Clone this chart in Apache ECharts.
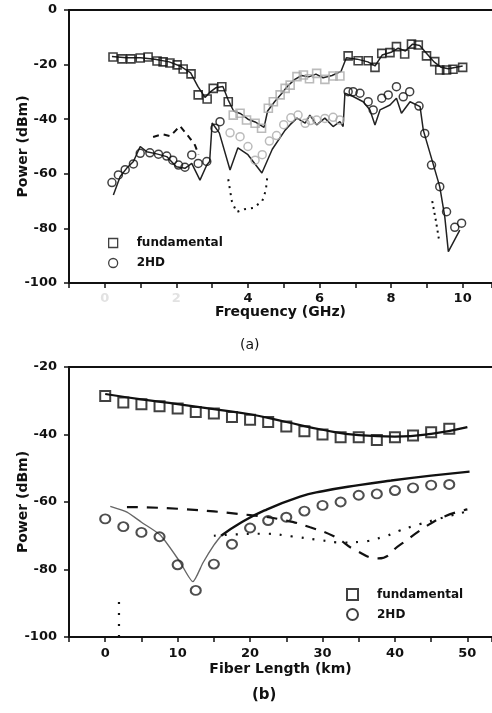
<!DOCTYPE html>
<html><head><meta charset="utf-8">
<script src="https://cdn.jsdelivr.net/npm/echarts@6/dist/echarts.min.js"></script>
<style>html,body{margin:0;padding:0;background:#fff}#c{width:492px;height:713px}</style>
</head><body><div id="c"></div>
<script>
// ---------- (a) Power vs frequency ----------
const fundA = [[0.23,-17.2],[0.48,-17.9],[0.73,-17.9],[0.99,-17.6],[1.21,-17.2],[1.46,-18.7],[1.63,-19.0],[1.82,-19.4],[2.02,-20.1],[2.19,-21.6],[2.41,-23.4],[2.61,-31.1],[2.86,-32.6],[3.03,-28.7],[3.27,-28.1],[3.45,-33.6],[3.59,-38.5],[3.78,-37.8],[3.96,-40.3],[4.2,-41.5],[4.38,-43.3],[4.57,-36.0],[4.71,-33.6],[4.9,-31.1],[5.04,-28.7],[5.18,-27.5],[5.37,-24.4],[5.55,-23.8],[5.72,-25.2],[5.92,-23.2],[6.15,-25.4],[6.38,-24.2],[6.57,-24.2],[6.8,-16.8],[7.08,-18.6],[7.36,-18.6],[7.55,-21.0],[7.74,-15.9],[7.97,-15.6],[8.15,-13.4],[8.38,-16.1],[8.57,-12.5],[8.76,-12.8],[8.99,-16.8],[9.22,-18.9],[9.36,-22.0],[9.55,-22.0],[9.73,-21.7],[10.0,-21.0]];
const fundSimA = [[0.2,-17],[0.6,-17.5],[1.0,-17.5],[1.4,-18],[1.8,-19],[2.1,-20.5],[2.4,-23],[2.6,-28],[2.8,-32],[2.95,-30],[3.1,-28.5],[3.3,-28],[3.45,-33],[3.6,-37],[3.8,-38],[4.0,-40],[4.2,-41],[4.45,-43],[4.55,-37],[4.75,-33.5],[4.95,-30.5],[5.1,-28],[5.3,-25.5],[5.5,-24],[5.7,-24.5],[5.9,-23.5],[6.1,-24.8],[6.35,-24],[6.6,-22.5],[6.75,-17.5],[7.05,-18],[7.35,-19],[7.55,-20.5],[7.75,-16.5],[8.0,-15.5],[8.2,-14],[8.4,-15],[8.6,-12.5],[8.8,-13],[9.0,-16],[9.2,-19],[9.4,-21],[9.6,-21.5],[10.0,-20.5]];
const hd2A = [[0.2,-63.2],[0.38,-60.4],[0.57,-58.5],[0.8,-56.4],[0.99,-52.5],[1.26,-52.3],[1.5,-52.8],[1.73,-53.5],[1.9,-55.0],[2.06,-56.8],[2.24,-57.6],[2.43,-53.1],[2.61,-56.2],[2.85,-55.5],[3.08,-43.3],[3.22,-40.9],[3.5,-45.0],[3.78,-46.4],[4.0,-50.0],[4.2,-55.0],[4.4,-53.0],[4.6,-48.0],[4.8,-46.0],[5.0,-42.0],[5.2,-39.5],[5.4,-38.5],[5.6,-41.5],[5.75,-40.5],[5.92,-40.3],[6.15,-39.7],[6.38,-39.3],[6.57,-40.3],[6.8,-29.9],[6.94,-29.9],[7.13,-30.5],[7.36,-33.6],[7.5,-36.6],[7.74,-32.3],[7.92,-31.1],[8.15,-28.1],[8.34,-31.8],[8.52,-29.9],[8.78,-35.2],[8.94,-45.2],[9.13,-56.8],[9.36,-64.7],[9.55,-73.9],[9.78,-79.6],[9.97,-78.1]];
const hd2SimA = [[0.24,-67.8],[0.43,-61],[0.61,-58],[0.8,-55.5],[0.99,-50],[1.17,-51.9],[1.45,-52.7],[1.73,-53.7],[2.0,-57.4],[2.24,-58],[2.43,-56.2],[2.66,-62.3],[2.85,-56.8],[2.93,-55.5],[3.0,-41.4],[3.2,-45],[3.5,-58.6],[3.72,-50.5],[4.0,-53],[4.39,-59.7],[4.68,-51],[5.04,-44],[5.18,-42],[5.37,-39.6],[5.6,-41.4],[5.73,-38.5],[5.92,-42.1],[6.15,-39.6],[6.38,-42.7],[6.57,-40.9],[6.66,-42.7],[6.71,-30.5],[6.94,-31.7],[7.22,-33.6],[7.41,-36.6],[7.55,-42.1],[7.69,-36.6],[7.97,-34.8],[8.15,-32.3],[8.29,-37.8],[8.53,-33.6],[8.81,-35.4],[8.9,-44],[9.36,-64.7],[9.5,-75.7],[9.6,-88.5],[9.92,-80.6]];
const dashA1 = [[1.35,-46.5],[1.6,-45.5],[1.83,-46.2],[2.1,-42.5],[2.38,-47],[2.52,-49.5],[2.62,-53]];
const dashA2 = [[3.45,-62],[3.55,-70],[3.68,-74],[3.9,-73],[4.15,-72.5],[4.4,-70],[4.5,-66],[4.55,-60]];
const dotA3 = [[9.15,-70],[9.25,-77],[9.35,-85]];
const freqTickLabels = ['0','2','4','6','8','10'];

// ---------- (b) Power vs fiber length ----------
const fiberKm = [0,2.5,5,7.5,10,12.5,15,17.5,20,22.5,25,27.5,30,32.5,35,37.5,40,42.5,45,47.5];
const fundB = [-28.6,-30.5,-31,-31.6,-32.3,-33.3,-33.8,-34.8,-35.6,-36.3,-37.6,-39,-40,-40.8,-40.8,-41.6,-40.8,-40.3,-39.3,-38.3];
const hd2B = [-65,-67.3,-69,-70.3,-78.6,-86.2,-78.4,-72.5,-67.7,-65.5,-64.5,-62.7,-61,-60,-58,-57.6,-56.6,-55.8,-55,-54.8];
const fundSimB = [[0,-28],[5,-29.6],[10,-31],[15,-32.5],[20,-34],[25,-36.3],[30,-38.6],[35,-40.2],[40,-40.6],[45,-39.8],[50,-37.8]];
const hd2SimB = [[0.7,-61.3],[3,-63],[5,-66],[7.6,-69.8],[10.3,-77.7],[12.1,-83.6],[13.5,-78],[15,-72.8],[16,-70],[18.6,-66.3],[22,-62.5],[26.9,-58.4],[30,-56.8],[35,-55],[39.3,-53.7],[45,-52.2],[50.3,-51]];
const dashB = [[3,-61.5],[10,-62],[20,-63.9],[25,-65.5],[28.3,-67.5],[31.7,-70.3],[34.5,-74.2],[37.7,-76.7],[40.7,-72.7],[43.9,-67.8],[46.7,-64.4],[50,-62.2]];
const dotB = [[15,-70],[22,-69.4],[25.8,-70.2],[29.4,-71.2],[32.9,-72],[35.2,-71.8],[38.6,-70.2],[40.5,-68.6],[42.3,-67.3],[46,-65],[50,-62.8]];
const dotB2 = [[1.9,-100],[1.9,-87]];
const kmTickLabels = ['0','10','20','30','40','50'];

const FONT = 'DejaVu Sans';
const faint = f => f >= 3.5 && f < 6.7;
const mk = (arr, col) => arr.map(p => ({value: p, itemStyle: {borderColor: faint(p[0]) ? '#aaa' : col}}));

const chart = echarts.init(document.getElementById('c'), null, {renderer: 'canvas'});
const lbl = {fontFamily: FONT, fontWeight: 'bold', fontSize: 13, color: '#111'};
const nameStyle = {fontFamily: FONT, fontWeight: 'bold', fontSize: 14, color: '#111'};
const axisLine = {show: true, onZero: false, lineStyle: {color: '#111', width: 2}};
const tick = {show: true, inside: false, length: 5, lineStyle: {color: '#111', width: 1.5}};

const option = {
  backgroundColor: '#fff',
  animation: false,
  grid: [
    {left: 69, top: 10, width: 423, height: 273, outerBoundsMode: 'none', containLabel: false},
    {left: 69, top: 367, width: 423, height: 270, outerBoundsMode: 'none', containLabel: false}
  ],
  xAxis: [
    {gridIndex: 0, type: 'value', min: -1, max: 10.82, interval: 1, axisLine, axisTick: tick, splitLine: {show: false},
     axisLabel: Object.assign({}, lbl, {margin: 9, formatter: v => {
        const s = String(v); if (!freqTickLabels.includes(s)) return '';
        return (v < 4) ? '{f|' + s + '}' : s; }, rich: {f: Object.assign({}, lbl, {color: '#e2e2e2'})}}),
     name: 'Frequency (GHz)', nameLocation: 'middle', nameGap: 22, nameMoveOverlap: false, nameTextStyle: nameStyle},
    {gridIndex: 1, type: 'value', min: -5, max: 53.4, interval: 5, axisLine, axisTick: tick, splitLine: {show: false},
     axisLabel: Object.assign({}, lbl, {margin: 10, formatter: v => kmTickLabels.includes(String(v)) ? String(v) : ''}),
     name: 'Fiber Length (km)', nameLocation: 'middle', nameGap: 25, nameMoveOverlap: false, nameTextStyle: nameStyle},
    {gridIndex: 0, type: 'value', position: 'top', min: -1, max: 10.82, axisLine, axisTick: {show: false}, axisLabel: {show: false}, splitLine: {show: false}},
    {gridIndex: 1, type: 'value', position: 'top', min: -5, max: 53.4, axisLine, axisTick: {show: false}, axisLabel: {show: false}, splitLine: {show: false}}
  ],
  yAxis: [
    {gridIndex: 0, type: 'value', min: -100, max: 0, interval: 20, axisLine, axisTick: tick, splitLine: {show: false},
     axisLabel: Object.assign({}, lbl, {margin: 12}),
     name: 'Power (dBm)', nameLocation: 'middle', nameGap: 39, nameMoveOverlap: false, nameTextStyle: nameStyle},
    {gridIndex: 1, type: 'value', min: -100, max: -20, interval: 20, axisLine, axisTick: tick, splitLine: {show: false},
     axisLabel: Object.assign({}, lbl, {margin: 12}),
     name: 'Power (dBm)', nameLocation: 'middle', nameGap: 39, nameMoveOverlap: false, nameTextStyle: nameStyle}
  ],
  legend: [
    {left: 103, top: 232, orient: 'vertical', itemWidth: 9, itemHeight: 9, itemGap: 8,
     data: [{name: 'fundamental', icon: 'rect'}, {name: '2HD', icon: 'circle'}],
     itemStyle: {borderWidth: 1.3},
     textStyle: {fontFamily: FONT, fontWeight: 'bold', fontSize: 12, color: '#111', padding: [0, 0, 0, 14]}},
    {left: 341, top: 583, orient: 'vertical', itemWidth: 11, itemHeight: 11, itemGap: 7,
     data: [{name: 'fundamental', icon: 'rect'}, {name: '2HD', icon: 'circle'}],
     textStyle: {fontFamily: FONT, fontWeight: 'bold', fontSize: 12, color: '#111', padding: [0, 0, 0, 14]}}
  ],
  graphic: [
    {type: 'text', left: 240, top: 338, style: {text: '(a)', fontFamily: FONT, fontSize: 14, fill: '#111'}},
    {type: 'text', left: 252, top: 688, style: {text: '(b)', fontFamily: FONT, fontWeight: 'bold', fontSize: 15, fill: '#111'}}
  ],
  series: [
    // (a)
    {type: 'line', xAxisIndex: 0, yAxisIndex: 0, data: fundSimA, showSymbol: false, lineStyle: {color: '#222', width: 1.5}, z: 2},
    {type: 'line', xAxisIndex: 0, yAxisIndex: 0, data: hd2SimA, showSymbol: false, lineStyle: {color: '#222', width: 1.5}, z: 2},
    {type: 'line', xAxisIndex: 0, yAxisIndex: 0, data: dashA1, showSymbol: false, lineStyle: {color: '#111', width: 2, type: [6, 5]}, z: 2},
    {type: 'line', xAxisIndex: 0, yAxisIndex: 0, data: dashA2, showSymbol: false, lineStyle: {color: '#111', width: 2, type: [2, 5]}, z: 2},
    {type: 'line', xAxisIndex: 0, yAxisIndex: 0, data: dotA3, showSymbol: false, lineStyle: {color: '#111', width: 2, type: [2, 4]}, z: 2},
    {name: 'fundamental', type: 'scatter', xAxisIndex: 0, yAxisIndex: 0, data: mk(fundA, '#111'), symbol: 'rect', symbolSize: 8,
     itemStyle: {color: 'rgba(255,255,255,0)', borderColor: '#111', borderWidth: 1.6}, z: 3},
    {name: '2HD', type: 'scatter', xAxisIndex: 0, yAxisIndex: 0, data: mk(hd2A, '#111'), symbol: 'circle', symbolSize: 8,
     itemStyle: {color: 'rgba(255,255,255,0)', borderColor: '#111', borderWidth: 1.5}, z: 3},
    // (b)
    {type: 'line', xAxisIndex: 1, yAxisIndex: 1, data: fundSimB, smooth: true, showSymbol: false, lineStyle: {color: '#111', width: 2.2}, z: 2},
    {type: 'line', xAxisIndex: 1, yAxisIndex: 1, data: hd2SimB.filter(p => p[0] <= 16), smooth: 0.2, showSymbol: false, lineStyle: {color: '#666', width: 1.4}, z: 2},
    {type: 'line', xAxisIndex: 1, yAxisIndex: 1, data: hd2SimB.filter(p => p[0] >= 16), smooth: true, showSymbol: false, lineStyle: {color: '#111', width: 2.4}, z: 2},
    {type: 'line', xAxisIndex: 1, yAxisIndex: 1, data: dashB, smooth: true, showSymbol: false, lineStyle: {color: '#111', width: 2.2, type: [11, 9]}, z: 2},
    {type: 'line', xAxisIndex: 1, yAxisIndex: 1, data: dotB, smooth: true, showSymbol: false, lineStyle: {color: '#111', width: 2.2, type: [2, 9]}, z: 2},
    {type: 'line', xAxisIndex: 1, yAxisIndex: 1, data: dotB2, showSymbol: false, lineStyle: {color: '#111', width: 2.2, type: [2, 9]}, z: 2},
    {name: 'fundamental', type: 'scatter', xAxisIndex: 1, yAxisIndex: 1, data: fiberKm.map((k, i) => [k, fundB[i]]), symbol: 'rect', symbolSize: 10,
     itemStyle: {color: 'rgba(255,255,255,0)', borderColor: '#111', borderWidth: 2}, z: 3},
    {name: '2HD', type: 'scatter', xAxisIndex: 1, yAxisIndex: 1, data: fiberKm.map((k, i) => [k, hd2B[i]]), symbol: 'circle', symbolSize: [10, 9],
     itemStyle: {color: 'rgba(255,255,255,0)', borderColor: '#222', borderWidth: 2}, z: 3}
  ]
};
chart.setOption(option);
</script></body></html>
